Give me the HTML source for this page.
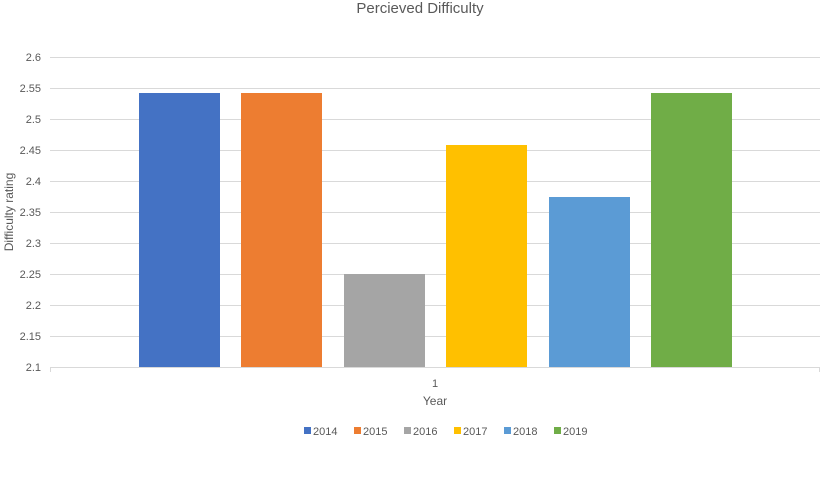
<!DOCTYPE html>
<html><head><meta charset="utf-8"><style>
body{margin:0;background:#fff;}
svg text{font-family:"Liberation Sans",sans-serif;fill:#595959;}
</style></head><body>
<svg width="840" height="480" xmlns="http://www.w3.org/2000/svg">
<rect width="840" height="480" fill="#fff"/>
<text x="420" y="13" font-size="15" text-anchor="middle" fill="#595959">Percieved Difficulty</text>
<g stroke="#d9d9d9" stroke-width="1">
<line x1="50" x2="820" y1="57.5" y2="57.5"/>
<line x1="50" x2="820" y1="88.5" y2="88.5"/>
<line x1="50" x2="820" y1="119.5" y2="119.5"/>
<line x1="50" x2="820" y1="150.5" y2="150.5"/>
<line x1="50" x2="820" y1="181.5" y2="181.5"/>
<line x1="50" x2="820" y1="212.5" y2="212.5"/>
<line x1="50" x2="820" y1="243.5" y2="243.5"/>
<line x1="50" x2="820" y1="274.5" y2="274.5"/>
<line x1="50" x2="820" y1="305.5" y2="305.5"/>
<line x1="50" x2="820" y1="336.5" y2="336.5"/>
<line x1="50" x2="820" y1="367.5" y2="367.5"/>
<line x1="50.5" x2="50.5" y1="367" y2="372"/>
<line x1="819.5" x2="819.5" y1="367" y2="372"/>
</g>
<g font-size="11" text-anchor="end">
<text x="41" y="61">2.6</text>
<text x="41" y="92">2.55</text>
<text x="41" y="123">2.5</text>
<text x="41" y="154">2.45</text>
<text x="41" y="185">2.4</text>
<text x="41" y="216">2.35</text>
<text x="41" y="247">2.3</text>
<text x="41" y="278">2.25</text>
<text x="41" y="309">2.2</text>
<text x="41" y="340">2.15</text>
<text x="41" y="371">2.1</text>
</g>
<text transform="translate(13,212) rotate(-90)" font-size="12" text-anchor="middle">Difficulty rating</text>
<rect x="139" y="93" width="81" height="274" fill="#4472c4"/>
<rect x="241" y="93" width="81" height="274" fill="#ed7d31"/>
<rect x="344" y="274" width="81" height="93" fill="#a5a5a5"/>
<rect x="446" y="145" width="81" height="222" fill="#ffc000"/>
<rect x="549" y="197" width="81" height="170" fill="#5b9bd5"/>
<rect x="651" y="93" width="81" height="274" fill="#70ad47"/>
<text x="435" y="387" font-size="11" text-anchor="middle">1</text>
<text x="435" y="405" font-size="12" text-anchor="middle">Year</text>
<g font-size="11">
<rect x="304" y="427" width="7" height="7" fill="#4472c4"/><text x="313" y="435">2014</text>
<rect x="354" y="427" width="7" height="7" fill="#ed7d31"/><text x="363" y="435">2015</text>
<rect x="404" y="427" width="7" height="7" fill="#a5a5a5"/><text x="413" y="435">2016</text>
<rect x="454" y="427" width="7" height="7" fill="#ffc000"/><text x="463" y="435">2017</text>
<rect x="504" y="427" width="7" height="7" fill="#5b9bd5"/><text x="513" y="435">2018</text>
<rect x="554" y="427" width="7" height="7" fill="#70ad47"/><text x="563" y="435">2019</text>
</g>
</svg>
</body></html>
